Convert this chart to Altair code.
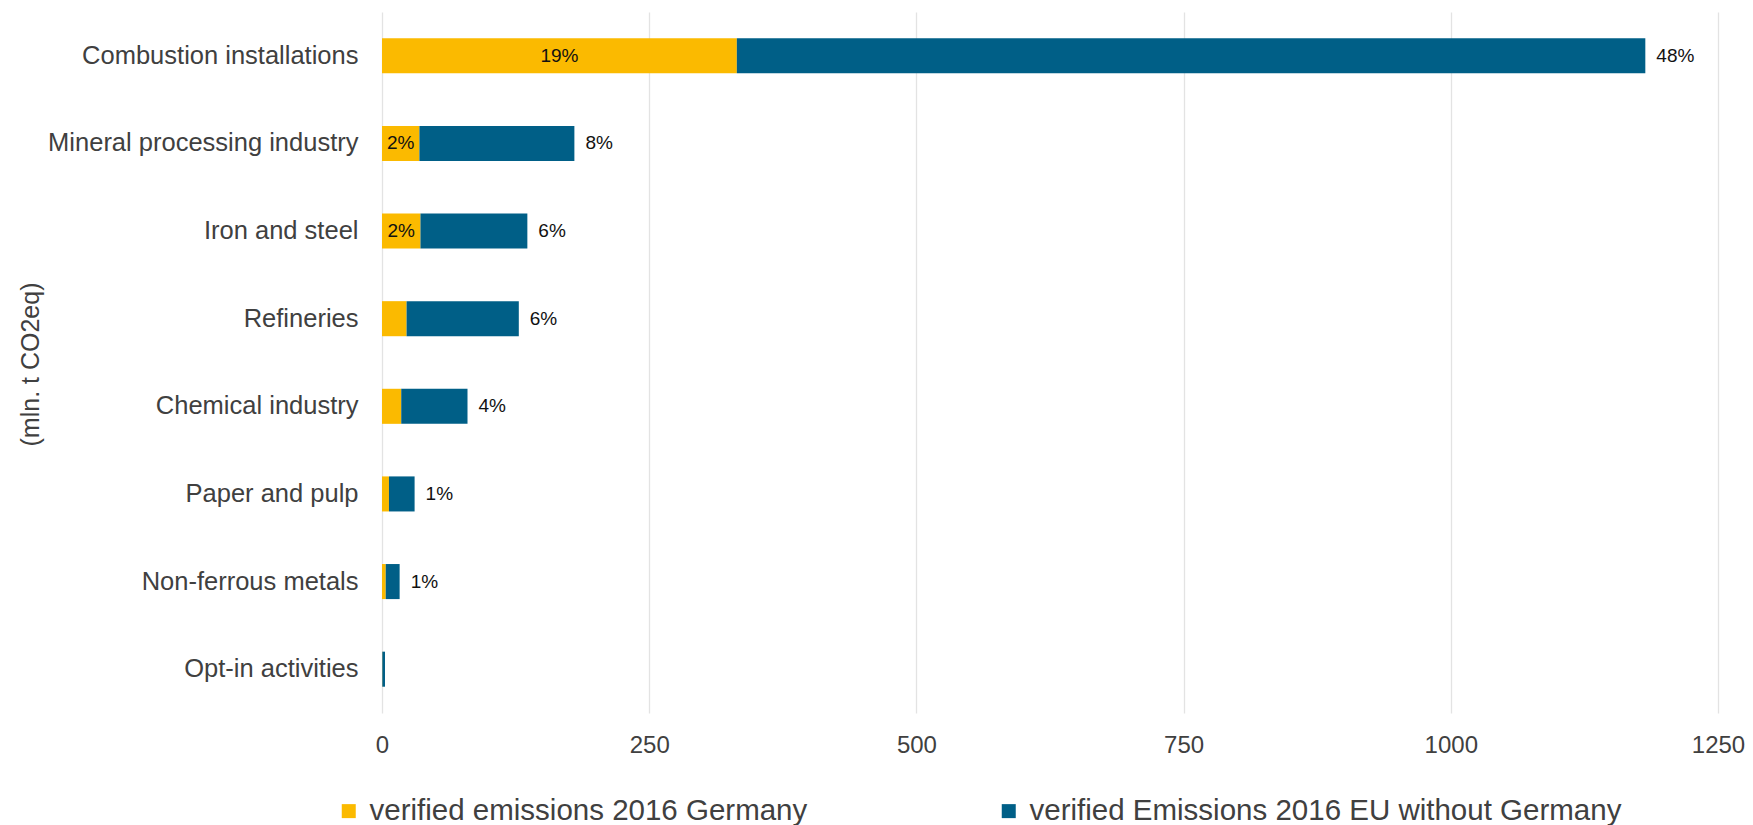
import altair as alt
import pandas as pd

FONT = "Liberation Sans"

categories = [
    "Combustion installations",
    "Mineral processing industry",
    "Iron and steel",
    "Refineries",
    "Chemical industry",
    "Paper and pulp",
    "Non-ferrous metals",
    "Opt-in activities",
]
germany = [332, 35, 36, 23, 18, 6.5, 3.5, 0.3]
eu_without_germany = [850, 145, 100, 105, 62, 24, 13, 2.5]
germany_labels = ["19%", "2%", "2%", "", "", "", "", ""]
eu_labels = ["48%", "8%", "6%", "6%", "4%", "1%", "1%", ""]
series_names = ["verified emissions 2016 Germany", "verified Emissions 2016 EU without Germany"]
series_colors = ["#FBBA00", "#005F87"]
x_ticks = [0, 250, 500, 750, 1000, 1250]

rows = []
for i, c in enumerate(categories):
    rows.append({"category": c, "series": series_names[0], "value": germany[i], "order": 0})
    rows.append({"category": c, "series": series_names[1], "value": eu_without_germany[i], "order": 1})
df_long = pd.DataFrame(rows)

df_wide = pd.DataFrame({
    "category": categories,
    "germany": germany,
    "eu": eu_without_germany,
    "g_label": germany_labels,
    "e_label": eu_labels,
})

y_scale = alt.Scale(paddingInner=0.6, paddingOuter=0.3)
x_scale = alt.Scale(domain=[0, 1250], nice=False)

y_axis = alt.Axis(
    title="(mln. t CO2eq)",
    labelFontSize=25.5, labelColor="#404040", labelFont=FONT, labelPadding=24,
    labelLimit=600,
    ticks=False, domain=False, grid=False,
    titleFont=FONT, titleFontSize=25, titleFontWeight="normal", titleColor="#404040",
    titleAngle=270, titleX=-352, titleY=352, titleBaseline="middle", titleAlign="center",
)
x_axis = alt.Axis(
    title=None, values=x_ticks, format="d",
    labelFontSize=24, labelColor="#404040", labelFont=FONT, labelPadding=20,
    labelFlush=False, ticks=False, domain=False,
    grid=True, gridColor="#e3e3e3", gridWidth=1.3,
)

bars = alt.Chart(df_long).mark_bar().encode(
    y=alt.Y("category:N", sort=categories, scale=y_scale, axis=y_axis),
    x=alt.X("value:Q", stack="zero", scale=x_scale, axis=x_axis),
    color=alt.Color(
        "series:N",
        scale=alt.Scale(domain=series_names, range=series_colors),
        legend=alt.Legend(
            title=None, orient="none", legendX=-48, legendY=784,
            direction="horizontal", columns=2, columnPadding=186,
            symbolType="square", symbolSize=196, symbolStrokeWidth=0,
            labelFont=FONT, labelFontSize=29.5, labelColor="#404040",
            labelOffset=6, labelLimit=800, padding=0,
        ),
    ),
    order=alt.Order("order:Q"),
)

g_text = alt.Chart(df_wide).transform_calculate(
    mid="datum.germany / 2"
).mark_text(
    font=FONT, fontSize=19, color="#111111", align="center", baseline="middle"
).encode(
    y=alt.Y("category:N", sort=categories, scale=y_scale, axis=y_axis),
    x=alt.X("mid:Q", scale=x_scale, axis=x_axis),
    text="g_label:N",
)

e_text = alt.Chart(df_wide).transform_calculate(
    total="datum.germany + datum.eu"
).mark_text(
    font=FONT, fontSize=19, color="#111111", align="left", baseline="middle", dx=11
).encode(
    y=alt.Y("category:N", sort=categories, scale=y_scale, axis=y_axis),
    x=alt.X("total:Q", scale=x_scale, axis=x_axis),
    text="e_label:N",
)

chart = alt.layer(bars, g_text, e_text).properties(
    width=1336,
    height=701,
    background="white",
    autosize=alt.AutoSizeParams(type="none"),
    padding={"left": 374, "top": 4, "right": 27, "bottom": 112},
).configure_view(stroke=None)

chart.save("out.html", embed_options={"renderer": "svg", "actions": False})
